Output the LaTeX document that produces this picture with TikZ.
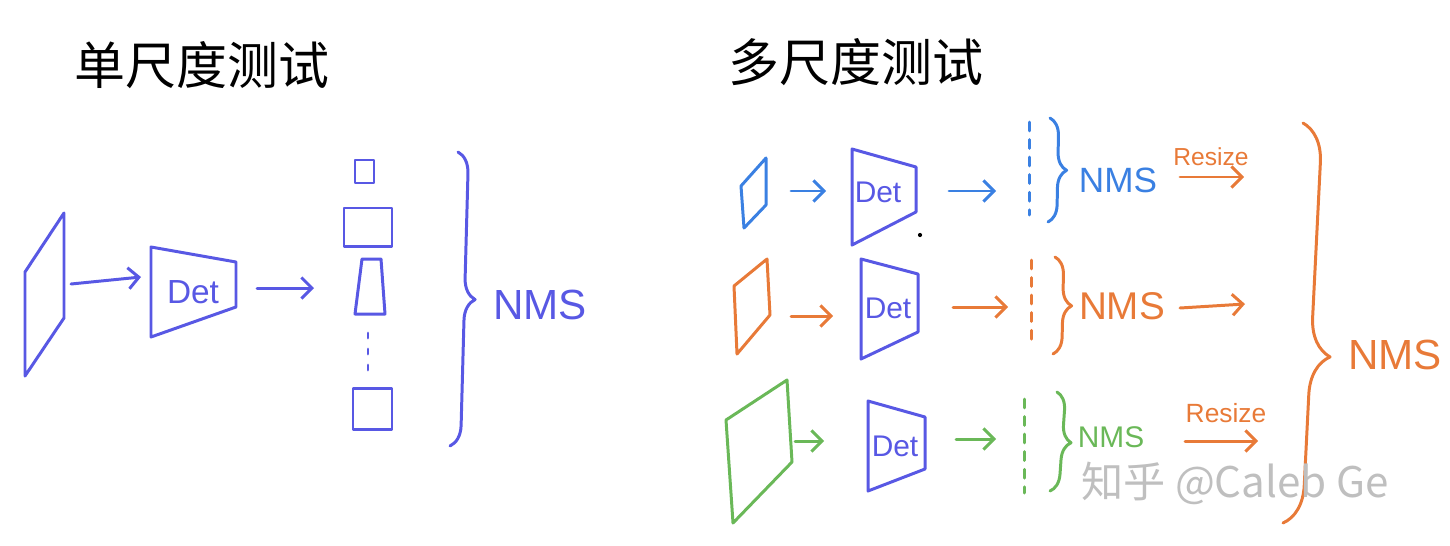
\documentclass[tikz,border=0pt]{standalone}
\usepackage{fontspec}
\setsansfont{Liberation Sans}
\newfontfamily\cjk{Noto Sans CJK SC}
\usetikzlibrary{arrows.meta,decorations.pathreplacing}
\definecolor{penblue}{RGB}{88,88,228}
\definecolor{rowblue}{RGB}{58,128,226}
\definecolor{penorange}{RGB}{232,122,56}
\definecolor{pengreen}{RGB}{106,184,88}
\begin{document}
\begin{tikzpicture}[x=0.02cm,y=-0.02cm,
    pen/.style={line width=1.7pt,line cap=round,line join=round},
    arr/.style={pen,-{Straight Barb[length=6pt,width=12pt]}},
    hbrace/.style={pen,decorate,decoration={brace,amplitude=#1}},
    dashline/.style={pen,dash pattern=on 5pt off 5pt},
    title/.style={font=\cjk\fontsize{29}{29}\selectfont},
    txt/.style={font=\sffamily\fontsize{#1}{#1}\selectfont,inner sep=0pt}]
    \useasboundingbox (0,0) rectangle (1450,545);

    % single scale
    \node[title] (t1) at (202,65) {单尺度测试};
    \draw[pen,penblue] (25,272) -- (64,213) -- (64,318) -- (25,376) -- cycle;
    \draw[pen,penblue] (151,247) -- (236,262) -- (236,307) -- (151,337) -- cycle;
    \node[txt=19,penblue] (det0) at (193,292) {Det};
    \coordinate (a0) at (71,284);
    \coordinate (b0) at (141,277);
    \coordinate (c0) at (257,288);
    \coordinate (d0) at (314,288);
    \draw[arr,penblue] (a0) -- (b0);
    \draw[arr,penblue] (c0) -- (d0);
    \draw[pen,penblue] (355,160) rectangle (374,183);
    \draw[pen,penblue] (344,208) rectangle (392,246);
    \draw[pen,penblue] (362,259) -- (381,259) -- (385,314) -- (355,314) -- cycle;
    \foreach \y in {333,349,365}
        \draw[pen,penblue] (368,\y) -- (368,\y+5);
    \draw[pen,penblue] (353,388) rectangle (392,429);
    \draw[hbrace=12pt,penblue] (458,152) -- (450,446);
    \node[txt=24,penblue] (nms0) at (540,305) {NMS};

    % multi scale
    \node[title] (t2) at (856,62) {多尺度测试};

    % row 1
    \draw[pen,rowblue] (741,186) -- (766,158) -- (766,205) -- (744,228) -- cycle;
    \draw[pen,penblue] (852,149) -- (916,167) -- (916,212) -- (852,245) -- cycle;
    \node[txt=17,penblue] (det1) at (878,192) {Det};
    \fill (920,235) circle (1.2pt);
    \coordinate (a1) at (791,191);
    \coordinate (b1) at (826,191);
    \coordinate (c1) at (949,191);
    \coordinate (d1) at (996,191);
    \draw[arr,rowblue] (a1) -- (b1);
    \draw[arr,rowblue] (c1) -- (d1);
    \draw[dashline,rowblue] (1029,122) -- (1029,215);
    \draw[hbrace=10pt,rowblue] (1050,118) -- (1048,222);
    \node[txt=20,rowblue] (nms1) at (1118,180) {NMS};
    \node[txt=14,penorange] (rs1) at (1211,157) {Resize};
    \coordinate (e1) at (1180,177);
    \coordinate (f1) at (1244,177);
    \draw[arr,penorange] (e1) -- (f1);

    % row 2
    \draw[pen,penorange] (734,286) -- (767,259) -- (770,315) -- (737,354) -- cycle;
    \draw[pen,penblue] (861,259) -- (918,274) -- (918,332) -- (861,359) -- cycle;
    \node[txt=17,penblue] (det2) at (888,308) {Det};
    \coordinate (a2) at (791,316);
    \coordinate (b2) at (833,316);
    \coordinate (c2) at (953,307);
    \coordinate (d2) at (1008,307);
    \draw[arr,penorange] (a2) -- (b2);
    \draw[arr,penorange] (c2) -- (d2);
    \draw[dashline,penorange] (1031,260) -- (1031,347);
    \draw[hbrace=10pt,penorange] (1055,257) -- (1053,354);
    \node[txt=22,penorange] (nms2) at (1122,306) {NMS};
    \coordinate (e2) at (1180,308);
    \coordinate (f2) at (1245,304);
    \draw[arr,penorange] (e2) -- (f2);

    % row 3
    \draw[pen,pengreen] (726,420) -- (787,380) -- (792,462) -- (733,523) -- cycle;
    \draw[pen,penblue] (868,401) -- (925,417) -- (925,469) -- (868,491) -- cycle;
    \node[txt=17,penblue] (det3) at (895,446) {Det};
    \coordinate (a3) at (795,441);
    \coordinate (b3) at (824,441);
    \coordinate (c3) at (956,439);
    \coordinate (d3) at (996,439);
    \draw[arr,pengreen] (a3) -- (b3);
    \draw[arr,pengreen] (c3) -- (d3);
    \draw[dashline,pengreen] (1024,399) -- (1024,493);
    \draw[hbrace=10pt,pengreen] (1057,392) -- (1050,491);
    \node[txt=17,pengreen] (nms3) at (1111,437) {NMS};
    \node[txt=15,penorange] (rs3) at (1226,413) {Resize};
    \coordinate (e3) at (1185,441);
    \coordinate (f3) at (1258,441);
    \draw[arr,penorange] (e3) -- (f3);

    % merge
    \draw[pen,penorange,decorate,decoration={brace,amplitude=22pt,aspect=0.58}] (1303,123) -- (1283,523);
    \node[txt=24,penorange] (nms4) at (1395,355) {NMS};

    \node[font=\cjk\fontsize{24}{24}\selectfont,gray!50] (wm) at (1235,483) {知乎 @Caleb Ge};
\end{tikzpicture}
\end{document}
